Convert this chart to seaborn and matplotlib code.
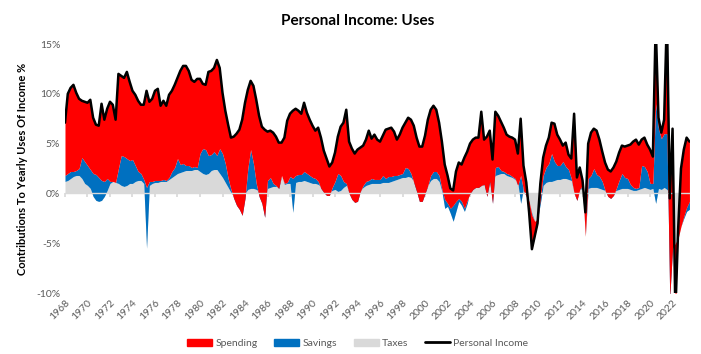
import numpy as np
import matplotlib
matplotlib.use('Agg')
import matplotlib.pyplot as plt
import seaborn as sns
from matplotlib.patches import Patch
from matplotlib.lines import Line2D

# quarterly readings, 1968 Q1 .. 2023 Q3 (one row per year)
personal_income = [
    7.1, 10.0, 10.6, 10.9,
    10.1, 9.5, 9.3, 9.2,
    9.1, 9.4, 7.6, 6.9,
    6.8, 9.0, 7.4, 8.5,
    9.2, 8.9, 7.4, 12.0,
    11.8, 11.6, 12.2, 11.2,
    10.3, 9.9, 9.3, 8.9,
    8.9, 10.3, 9.2, 9.5,
    10.3, 10.5, 8.8, 9.3,
    8.8, 9.9, 10.3, 10.9,
    11.6, 12.3, 12.8, 12.8,
    12.3, 11.4, 11.2, 11.5,
    11.5, 11.0, 10.9, 12.2,
    12.3, 12.6, 13.4, 12.6,
    10.1, 8.3, 6.9, 5.6,
    5.7, 6.0, 6.4, 7.4,
    9.1, 10.4, 11.3, 10.8,
    9.4, 7.8, 6.7, 6.4,
    6.2, 6.3, 6.1, 5.7,
    5.1, 5.1, 5.6, 7.3,
    8.0, 8.3, 8.5, 8.3,
    8.0, 9.1, 8.1, 7.4,
    6.8, 6.3, 6.6, 5.6,
    4.3, 3.5, 2.7, 3.1,
    4.1, 5.7, 6.7, 7.1,
    8.4, 5.2, 4.5, 4.0,
    4.4, 4.6, 4.8, 5.4,
    6.3, 5.5, 5.9, 5.4,
    5.2, 5.8, 6.4, 6.5,
    6.6, 6.2, 5.4, 5.9,
    6.6, 7.1, 7.6, 7.4,
    6.8, 5.6, 4.7, 4.7,
    5.8, 7.4, 8.4, 8.8,
    8.4, 7.1, 5.2, 2.9,
    1.8, 0.5, 0.3, 2.2,
    3.1, 2.9, 3.6, 4.2,
    5.0, 5.4, 5.6, 5.6,
    8.2, 5.4, 5.7, 6.3,
    3.4, 8.2, 7.8, 7.2,
    6.6, 5.9, 5.7, 5.6,
    5.4, 4.0, 7.5, 2.8,
    1.1, -1.9, -5.6, -4.3,
    -3.0, 1.0, 3.6, 4.8,
    5.6, 7.1, 7.0, 5.9,
    5.4, 4.8, 5.1, 3.9,
    3.5, 8.0, 1.6, 2.6,
    1.3, -1.9, 5.0, 6.1,
    6.5, 6.3, 5.4, 4.2,
    3.1, 2.4, 2.2, 2.6,
    3.2, 4.1, 4.8, 4.7,
    4.8, 4.9, 5.2, 5.4,
    4.9, 5.4, 5.6, 4.9,
    4.4, 3.7, 17.0, 7.6,
    6.1, 7.4, 18.0, -0.5,
    6.5, -12.0, -3.5, 2.5,
    4.4, 5.6, 5.2,
]

taxes = [
    1.2, 1.3, 1.5, 1.7,
    1.8, 1.8, 1.5, 1.0,
    0.8, 0.5, -0.3, -0.7,
    -0.8, -0.7, -0.3, 0.3,
    1.0, 1.2, 1.1, 1.0,
    0.8, 0.7, 0.8, 1.0,
    1.0, 1.2, 1.3, 1.3,
    1.0, -5.5, 0.8, 1.0,
    1.1, 1.1, 1.2, 1.2,
    1.2, 1.4, 1.6, 1.8,
    2.0, 2.1, 2.2, 2.3,
    2.3, 2.3, 2.4, 2.4,
    2.2, 2.0, 1.9, 2.0,
    2.3, 2.4, 2.4, 2.0,
    1.6, 1.1, 0.6, 0.1,
    -0.3, -0.6, -0.8, -1.0,
    0.0, 0.4, 0.5, 0.5,
    0.4, 0.2, -0.3, -0.8,
    0.5, 0.6, 0.7, 0.7,
    0.8, 1.8, 0.9, 1.0,
    1.0, -1.9, 1.1, 1.2,
    1.2, 1.3, 1.2, 1.1,
    1.0, 1.0, 0.9, 0.7,
    0.4, 0.2, 0.1, 0.3,
    0.4, 0.2, 0.3, 0.6,
    0.8, 0.2, -0.3, -0.5,
    -0.4, 0.3, 0.6, 0.8,
    0.9, 1.0, 1.0, 1.0,
    1.0, 1.1, 1.1, 1.1,
    1.2, 1.3, 1.4, 1.5,
    1.6, 1.6, 1.7, 1.6,
    1.2, 0.6, -0.2, -0.4,
    0.3, 0.8, 1.3, 1.5,
    1.5, 1.2, 0.2, -1.5,
    -1.3, -2.0, -2.8, -1.8,
    -0.8, -1.2, -1.8, -1.0,
    0.3, 0.6, 0.7, 0.8,
    0.8, 1.0, 1.1, 1.2,
    1.3, 1.8, 1.9, 2.0,
    2.0, 1.8, 1.7, 1.6,
    1.4, 1.0, -1.0, 0.5,
    -0.3, -0.8, -2.0, -2.8,
    -2.6, -1.0, 0.8, 1.1,
    1.2, 1.2, 1.3, 1.4,
    1.4, 1.5, 1.5, 1.4,
    1.3, 0.0, -0.5, 0.4,
    0.5, -4.3, 0.5, 0.6,
    0.6, 0.6, 0.5, 0.4,
    0.3, 0.2, 0.0, 0.1,
    0.3, 0.4, 0.5, 0.5,
    0.5, 0.4, 0.3, 0.3,
    0.4, 0.5, 0.6, 0.5,
    0.4, 0.5, -1.0, 0.5,
    0.4, 0.6, 0.4, 0.0,
    -5.5, -5.0, -4.5, -3.3,
    -2.5, -1.8, -1.6,
]

savings = [
    0.6, 0.7, 0.7, 0.5,
    0.5, 0.7, 2.1, 2.2,
    2.0, 1.9, 2.3, 2.6,
    2.4, 2.0, 1.5, 1.2,
    0.2, 0.0, 0.0, 1.5,
    3.0, 3.0, 2.7, 2.3,
    2.4, 1.6, 0.9, 0.7,
    0.4, 6.1, 0.4, 0.2,
    0.2, 0.2, 0.1, 0.2,
    0.1, 0.2, 0.6, 0.8,
    1.5, 0.8, 0.8, 0.5,
    0.5, 0.3, 0.3, 0.2,
    1.8, 2.5, 2.5, 1.8,
    1.6, 1.8, 1.4, 2.5,
    2.4, 1.9, 0.9, 0.3,
    -0.2, -0.6, -0.8, -1.2,
    -0.5, 2.1, 3.9, 2.5,
    0.6, -0.5, -0.7, -1.6,
    0.8, 1.0, 0.3, 0.1,
    -0.3, 0.0, 0.1, 0.1,
    0.7, 3.4, 0.7, 0.7,
    0.7, 0.9, 0.8, 0.7,
    0.6, 0.5, 0.3, -0.2,
    -0.3, -0.4, -0.3, 0.3,
    0.8, 1.8, 1.5, 0.6,
    0.2, -0.2, -0.3, -0.4,
    -0.4, -0.1, 0.2, 0.4,
    0.4, 0.5, 0.4, 0.4,
    0.4, 0.7, 0.4, 0.6,
    0.5, 0.5, 0.4, 0.4,
    0.4, 1.0, 0.8, 0.4,
    -0.1, -0.4, -0.6, -0.4,
    -0.3, 0.0, 0.5, 0.7,
    0.7, 0.6, 0.2, 0.9,
    0.3, 0.5, 1.6, 1.0,
    0.3, 0.4, 0.3, 0.3,
    -0.3, -0.2, -0.1, -0.2,
    0.0, -0.1, -1.4, 0.0,
    -2.3, 0.8, 0.8, 0.3,
    0.2, 0.2, 0.2, 0.1,
    0.1, -0.2, 2.8, -0.2,
    0.0, 0.0, -0.2, 0.0,
    0.0, 0.5, 1.0, 1.5,
    1.8, 2.8, 1.9, 1.4,
    1.4, 1.7, 1.2, 1.0,
    0.2, 0.0, -0.2, 0.0,
    0.3, 0.0, 1.0, 1.2,
    1.9, 1.3, 1.2, 0.8,
    0.0, -0.5, -0.5, -0.3,
    0.2, 0.9, 1.5, 1.1,
    1.0, 0.5, 0.3, 0.2,
    0.2, 2.3, 2.1, 1.7,
    0.6, 0.5, 10.0, 6.0,
    5.1, 5.4, 5.6, -10.5,
    0.0, 0.0, 0.0, 0.0,
    0.2, 0.4, 0.8,
]

start_year = 1968
tick_years = list(range(1968, 2023, 2))

income = np.array(personal_income)
tax = np.array(taxes)
sav = np.array(savings)
quarters = start_year + np.arange(len(income)) * 0.25

# Excel-style stacked area: each series drawn from the running total below it
level_tax = tax
level_sav = tax + sav
spending = income - level_sav

RED = '#FF0000'
BLUE = '#0070C0'
GREY = '#D9D9D9'
TXT = '#595959'

sns.set_theme(style='white')
plt.rcParams['font.family'] = ['Lato', 'DejaVu Sans']

fig = plt.figure(figsize=(7.01, 3.54), dpi=100)
ax = fig.add_axes([0.0927, 0.1723, 0.8916, 0.7034])

ax.fill_between(quarters, 0, level_tax, color=GREY, lw=0, zorder=1)
ax.fill_between(quarters, level_tax, level_sav, color=BLUE, lw=0, zorder=1.1)
ax.fill_between(quarters, level_sav, level_sav + spending, color=RED, lw=0, zorder=1.2)
ax.axhline(0, color=GREY, lw=1, zorder=2)
sns.lineplot(x=quarters, y=income, color='black', lw=1.8, ax=ax, zorder=3)

ax.set_xlim(start_year, quarters[-1] + 0.05)
ax.set_ylim(-10, 15)
ax.set_yticks(range(-10, 16, 5))
ax.set_yticklabels([f'{v}%' for v in range(-10, 16, 5)])
ax.set_xticks(tick_years)
ax.set_xticklabels([str(y) for y in tick_years], rotation=45, ha='right',
                   rotation_mode='anchor')
ax.tick_params(axis='both', length=0, colors=TXT, labelsize=7.5)
ax.tick_params(axis='x', pad=4)
for s in ax.spines.values():
    s.set_visible(False)

# small tick marks on the zero line
zero_axis = ax.secondary_xaxis(10 / 25)
zero_axis.set_xticks(tick_years)
zero_axis.tick_params(length=3, color=GREY, labelbottom=False, labeltop=False,
                      direction='out')
zero_axis.spines['bottom'].set_visible(False)
zero_axis.spines['top'].set_visible(False)

ax.set_ylabel('Contributions To Yearly Uses Of Income %', fontsize=8,
              fontweight='bold', color='black', labelpad=6)
fig.text(0.51, 0.94, 'Personal Income: Uses', ha='center', va='center',
         fontsize=11, fontweight='bold', color='black')

handles = [Patch(color=RED, label='Spending'),
           Patch(color=BLUE, label='Savings'),
           Patch(color=GREY, label='Taxes'),
           Line2D([], [], color='black', lw=2, label='Personal Income')]
fig.legend(handles=handles, loc='center', bbox_to_anchor=(0.51, 0.03), ncol=4,
           frameon=False, fontsize=7.5, labelcolor=TXT, handlelength=2.4,
           handleheight=0.6, columnspacing=1.6, handletextpad=0.3)

fig.savefig('out.png', dpi=100)
